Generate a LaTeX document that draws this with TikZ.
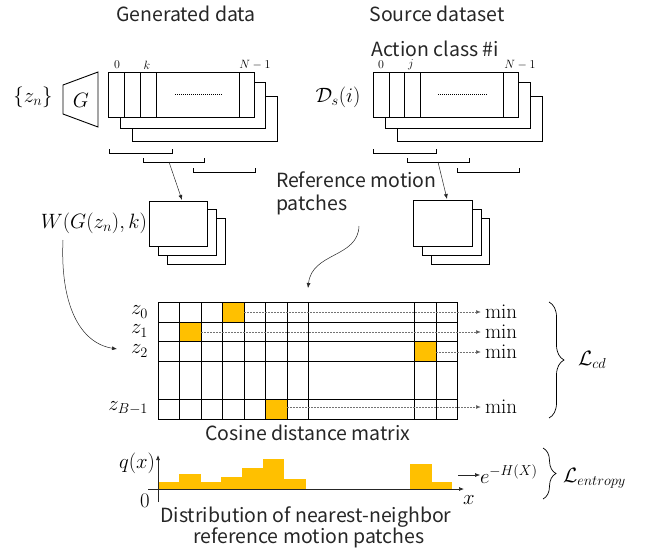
\documentclass[tikz,border=0pt]{standalone}
\usepackage{fontspec}
\newfontfamily\jp{Noto Sans CJK JP}
\usetikzlibrary{arrows.meta,decorations.pathreplacing}
\definecolor{gold}{HTML}{FFC000}
\begin{document}
\begin{tikzpicture}[x=1pt,y=-1pt,
  every node/.style={inner sep=0pt, outer sep=0pt},
  sheet/.style={draw=black, fill=white, line width=0.9pt},
  lbl/.style={font=\jp\fontsize{19.5}{23}\selectfont, text=black!85},
  mth/.style={font=\fontsize{21}{23}\selectfont},
  tiny/.style={font=\fontsize{12.5}{13}\selectfont},
  conn/.style={-{Latex[length=5pt,width=4pt]}, line width=0.5pt, draw=black!85},
  dots/.style={draw=black!55, dash pattern=on 1.5pt off 1.5pt, line width=0.7pt, -{Latex[length=5pt,width=4pt,fill=black]}},
  fine/.style={black, dash pattern=on 1pt off 1pt, line width=0.6pt},
  brk/.style={line width=0.9pt},
  gridl/.style={line width=0.8pt}
]
\useasboundingbox (0,0) rectangle (660,552);

% titles
\node[lbl] (t1) at (186,14) {Generated data};
\node[lbl] (t2) at (437,14) {Source dataset};
\node[lbl] (t3) at (435,49) {Action class \#i};

% ---------- left stack ----------
\draw[sheet] (132,96) rectangle (277,141);
\draw[sheet] (120,82) rectangle (265,128);
\draw[sheet] (108,72) rectangle (254,117);
\foreach \x in {124,140,156,239} \draw[line width=0.9pt] (\x,72) -- (\x,117);
\draw[fine] (175,94) -- (222,94);
\node[tiny] (l0) at (117,65) {$0$};
\node[tiny] (lk) at (147,65) {$k$};
\node[tiny] (lN) at (255,65) {$N-1$};

% generator
\draw[line width=0.9pt] (63,85) -- (98,72) -- (98,127) -- (63,114) -- cycle;
\node[mth] (G) at (81,100) {$G$};
\node[mth] (zn) at (33,97) {$\{z_n\}$};

% brackets left
\draw[brk] (109,149) -- (109,153) -- (172,153) -- (172,149);
\draw[brk] (143,158) -- (143,162) -- (204,162) -- (204,158);
\draw[brk] (193,168) -- (193,172) -- (255,172) -- (255,168);
\coordinate (lb) at (169,162);

% patches left
\draw[sheet] (167,218) rectangle (225,264);
\draw[sheet] (158,209) rectangle (216,255);
\draw[sheet] (149,201) rectangle (207,246);
\coordinate (lp) at (182,200);
\draw[conn] (lb) -- (lp);
\node[mth, anchor=east] (W) at (147,223) {$W(G(z_n),k)$};

% ---------- right stack ----------
\draw[sheet] (397,96) rectangle (542,141);
\draw[sheet] (385,82) rectangle (530,128);
\draw[sheet] (373,72) rectangle (518,117);
\foreach \x in {389,404,420,503} \draw[line width=0.9pt] (\x,72) -- (\x,117);
\draw[fine] (438,94) -- (487,94);
\node[tiny] (r0) at (381,65) {$0$};
\node[tiny] (rj) at (411,65) {$j$};
\node[tiny] (rN) at (520,65) {$N-1$};
\node[mth] (Ds) at (338,97) {$\mathcal{D}_s(i)$};

% brackets right
\draw[brk] (373,149) -- (373,153) -- (436,153) -- (436,149);
\draw[brk] (407,158) -- (407,162) -- (469,162) -- (469,158);
\draw[brk] (457,168) -- (457,172) -- (519,172) -- (519,168);
\coordinate (rb) at (438,162);

% patches right
\draw[sheet] (431,218) rectangle (489,264);
\draw[sheet] (422,209) rectangle (481,255);
\draw[sheet] (413,200) rectangle (472,246);
\coordinate (rp) at (447,199);
\draw[conn] (rb) -- (rp);

\node[lbl, anchor=north west, align=left] (ref) at (276,172) {Reference motion\\patches};

% ---------- matrix ----------
\fill[gold] (222,302) rectangle (244,322);
\fill[gold] (179,322) rectangle (201,341);
\fill[gold] (414,341) rectangle (436,361);
\fill[gold] (265,399) rectangle (287,419);
\foreach \y in {322,341,361,399} \draw[gridl] (158,\y) -- (457,\y);
\foreach \x in {179,201,222,244,265,287,308,414,436} \draw[gridl] (\x,302) -- (\x,419);
\draw[gridl] (158,302) rectangle (457,419);
\coordinate (mat) at (308,288);

\node[mth, anchor=east] (z0) at (148,312) {$z_0$};
\node[mth, anchor=east] (z1) at (148,331) {$z_1$};
\node[mth, anchor=east] (z2) at (148,351) {$z_2$};
\node[mth, anchor=east] (zB) at (148,408) {$z_{B-1}$};

\node[mth, anchor=west] (m0) at (485,312) {\rmfamily min};
\node[mth, anchor=west] (m1) at (485,332) {\rmfamily min};
\node[mth, anchor=west] (m2) at (485,352) {\rmfamily min};
\node[mth, anchor=west] (m3) at (485,407) {\rmfamily min};
\draw[dots, shorten >=4pt] (244,312) -- (m0.west |- 0,312);
\draw[dots, shorten >=4pt] (201,332) -- (m1.west |- 0,332);
\draw[dots, shorten >=4pt] (436,352) -- (m2.west |- 0,352);
\draw[dots, shorten >=4pt] (287,407) -- (m3.west |- 0,407);

\draw[line width=0.7pt, decorate, decoration={brace, amplitude=15pt}] (549,302) -- (549,418);
\node[mth, anchor=west] (Lcd) at (578,360) {$\mathcal{L}_{cd}$};

\node[lbl] (cap1) at (308,433) {Cosine distance matrix};

% connectors into matrix
\coordinate (wa) at (63,240);
\coordinate (z2a) at (117,349);
\draw[conn] (wa) .. controls (60,305) and (80,343) .. (z2a);
\coordinate (ra) at (359,226);
\draw[conn] (ra) .. controls (358,258) and (312,252) .. (mat);

% ---------- histogram ----------
\fill[gold] (158,482) rectangle (179,489);
\fill[gold] (179,474) rectangle (201,489);
\fill[gold] (201,482) rectangle (221,489);
\fill[gold] (221,477) rectangle (242,489);
\fill[gold] (242,468) rectangle (263,489);
\fill[gold] (263,459) rectangle (284,489);
\fill[gold] (284,479) rectangle (306,489);
\fill[gold] (410,464) rectangle (432,489);
\fill[gold] (432,482) rectangle (452,489);
\coordinate (xa0) at (148,489);
\coordinate (xa1) at (464,489);
\coordinate (ya0) at (158,502);
\coordinate (ya1) at (158,455);
\draw[conn, line width=0.7pt] (xa0) -- (xa1);
\draw[conn, line width=0.7pt] (ya0) -- (ya1);
\node[mth, anchor=east] (q) at (155,463) {$q(x)$};
\node[mth] (o) at (145,501) {$0$};
\node[mth] (xl) at (469,500) {$x$};

\node[mth, anchor=west] (eH) at (480,474) {$e^{-H(X)}$};
\coordinate (ea) at (458,475);
\draw[conn] (ea) -- (eH.west |- 0,475);

\draw[line width=0.7pt, decorate, decoration={brace, amplitude=13pt}] (543,448) -- (543,499);
\node[mth, anchor=west] (Le) at (563,478) {$\mathcal{L}_{entropy}$};

\node[lbl] (cap2) at (306,517) {Distribution of nearest-neighbor};
\node[lbl] (cap3) at (309,538) {reference motion patches};
\end{tikzpicture}
\end{document}
